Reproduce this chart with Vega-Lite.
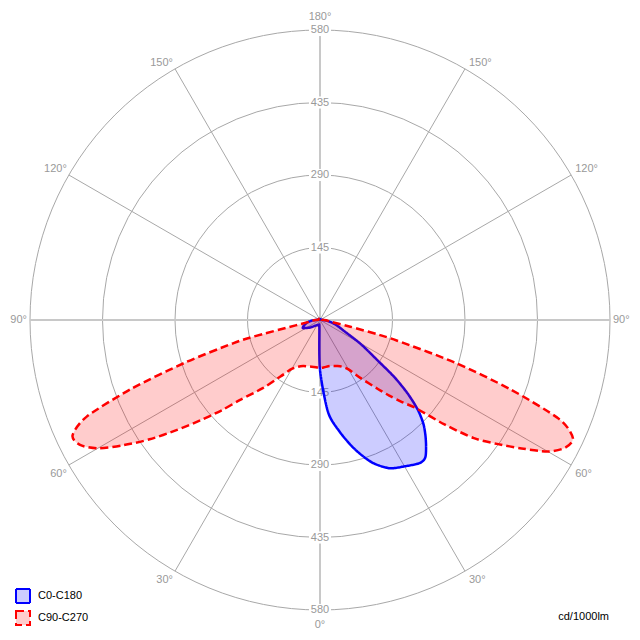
{
  "$schema": "https://vega.github.io/schema/vega-lite/v6.json",
  "width": 640,
  "height": 640,
  "autosize": {"type": "none"},
  "padding": 0,
  "background": "white",
  "config": {"view": {"stroke": null}, "text": {"font": "Liberation Sans", "fontSize": 11}},
  "datasets": {
    "rings": [{"ring": 145}, {"ring": 290}, {"ring": 435}, {"ring": 580}],
    "spokes": [
      {"angle": -150, "major": false}, {"angle": -120, "major": false}, {"angle": -60, "major": false}, {"angle": -30, "major": false},
      {"angle": 30, "major": false}, {"angle": 60, "major": false}, {"angle": 120, "major": false}, {"angle": 150, "major": false},
      {"angle": 0, "major": true}, {"angle": 90, "major": true}, {"angle": 180, "major": true}, {"angle": -90, "major": true}
    ],
    "radial": [
      {"value": 145, "angle": 180}, {"value": 290, "angle": 180}, {"value": 435, "angle": 180}, {"value": 580, "angle": 180},
      {"value": 145, "angle": 0}, {"value": 290, "angle": 0}, {"value": 435, "angle": 0}, {"value": 580, "angle": 0}
    ],
    "angles": [
      {"angle": 180, "label": "180°"}, {"angle": 0, "label": "0°"},
      {"angle": -90, "label": "90°"}, {"angle": 90, "label": "90°"},
      {"angle": -150, "label": "150°"}, {"angle": -120, "label": "120°"},
      {"angle": 150, "label": "150°"}, {"angle": 120, "label": "120°"},
      {"angle": -60, "label": "60°"}, {"angle": -30, "label": "30°"},
      {"angle": 60, "label": "60°"}, {"angle": 30, "label": "30°"}
    ],
    "curves": [
      {"curve": "C0-C180", "angle": -180, "cd": 2}, {"curve": "C0-C180", "angle": -170, "cd": 2}, {"curve": "C0-C180", "angle": -160, "cd": 2},
      {"curve": "C0-C180", "angle": -150, "cd": 2}, {"curve": "C0-C180", "angle": -140, "cd": 2}, {"curve": "C0-C180", "angle": -130, "cd": 2},
      {"curve": "C0-C180", "angle": -120, "cd": 2}, {"curve": "C0-C180", "angle": -110, "cd": 2}, {"curve": "C0-C180", "angle": -100, "cd": 2},
      {"curve": "C0-C180", "angle": -95, "cd": 4}, {"curve": "C0-C180", "angle": -90, "cd": 9}, {"curve": "C0-C180", "angle": -85, "cd": 17},
      {"curve": "C0-C180", "angle": -80, "cd": 25}, {"curve": "C0-C180", "angle": -75, "cd": 30}, {"curve": "C0-C180", "angle": -70, "cd": 35},
      {"curve": "C0-C180", "angle": -65, "cd": 38}, {"curve": "C0-C180", "angle": -60, "cd": 32}, {"curve": "C0-C180", "angle": -55, "cd": 27},
      {"curve": "C0-C180", "angle": -50, "cd": 22}, {"curve": "C0-C180", "angle": -45, "cd": 18}, {"curve": "C0-C180", "angle": -40, "cd": 15},
      {"curve": "C0-C180", "angle": -35, "cd": 13}, {"curve": "C0-C180", "angle": -30, "cd": 12}, {"curve": "C0-C180", "angle": -25, "cd": 11},
      {"curve": "C0-C180", "angle": -20, "cd": 11}, {"curve": "C0-C180", "angle": -15, "cd": 11}, {"curve": "C0-C180", "angle": -10, "cd": 12},
      {"curve": "C0-C180", "angle": -5, "cd": 15}, {"curve": "C0-C180", "angle": 0, "cd": 100}, {"curve": "C0-C180", "angle": 5, "cd": 185},
      {"curve": "C0-C180", "angle": 10, "cd": 227}, {"curve": "C0-C180", "angle": 15, "cd": 267}, {"curve": "C0-C180", "angle": 20, "cd": 303},
      {"curve": "C0-C180", "angle": 25, "cd": 327}, {"curve": "C0-C180", "angle": 30, "cd": 338}, {"curve": "C0-C180", "angle": 35, "cd": 349},
      {"curve": "C0-C180", "angle": 37.5, "cd": 346}, {"curve": "C0-C180", "angle": 40, "cd": 330}, {"curve": "C0-C180", "angle": 42.5, "cd": 312},
      {"curve": "C0-C180", "angle": 45, "cd": 292}, {"curve": "C0-C180", "angle": 47.5, "cd": 265}, {"curve": "C0-C180", "angle": 50, "cd": 229},
      {"curve": "C0-C180", "angle": 52.5, "cd": 187}, {"curve": "C0-C180", "angle": 55, "cd": 140}, {"curve": "C0-C180", "angle": 57.5, "cd": 112},
      {"curve": "C0-C180", "angle": 60, "cd": 90}, {"curve": "C0-C180", "angle": 65, "cd": 55}, {"curve": "C0-C180", "angle": 70, "cd": 40},
      {"curve": "C0-C180", "angle": 75, "cd": 30}, {"curve": "C0-C180", "angle": 80, "cd": 20}, {"curve": "C0-C180", "angle": 85, "cd": 12},
      {"curve": "C0-C180", "angle": 90, "cd": 6}, {"curve": "C0-C180", "angle": 95, "cd": 3}, {"curve": "C0-C180", "angle": 100, "cd": 2},
      {"curve": "C0-C180", "angle": 110, "cd": 2}, {"curve": "C0-C180", "angle": 120, "cd": 2}, {"curve": "C0-C180", "angle": 130, "cd": 2},
      {"curve": "C0-C180", "angle": 140, "cd": 2}, {"curve": "C0-C180", "angle": 150, "cd": 2}, {"curve": "C0-C180", "angle": 160, "cd": 2},
      {"curve": "C0-C180", "angle": 170, "cd": 2},

      {"curve": "C90-C270", "angle": -180, "cd": 3}, {"curve": "C90-C270", "angle": -170, "cd": 3}, {"curve": "C90-C270", "angle": -160, "cd": 3},
      {"curve": "C90-C270", "angle": -150, "cd": 3}, {"curve": "C90-C270", "angle": -140, "cd": 3}, {"curve": "C90-C270", "angle": -130, "cd": 3},
      {"curve": "C90-C270", "angle": -120, "cd": 3}, {"curve": "C90-C270", "angle": -110, "cd": 3}, {"curve": "C90-C270", "angle": -100, "cd": 3},
      {"curve": "C90-C270", "angle": -95, "cd": 4}, {"curve": "C90-C270", "angle": -90, "cd": 8}, {"curve": "C90-C270", "angle": -85, "cd": 15},
      {"curve": "C90-C270", "angle": -80, "cd": 25}, {"curve": "C90-C270", "angle": -77.5, "cd": 50}, {"curve": "C90-C270", "angle": -76, "cd": 138},
      {"curve": "C90-C270", "angle": -75, "cd": 180}, {"curve": "C90-C270", "angle": -72.5, "cd": 282}, {"curve": "C90-C270", "angle": -70, "cd": 400},
      {"curve": "C90-C270", "angle": -67.5, "cd": 505}, {"curve": "C90-C270", "angle": -65, "cd": 546}, {"curve": "C90-C270", "angle": -62.5, "cd": 541},
      {"curve": "C90-C270", "angle": -60, "cd": 513}, {"curve": "C90-C270", "angle": -57.5, "cd": 466}, {"curve": "C90-C270", "angle": -55, "cd": 416},
      {"curve": "C90-C270", "angle": -52.5, "cd": 362}, {"curve": "C90-C270", "angle": -50, "cd": 312}, {"curve": "C90-C270", "angle": -47.5, "cd": 268},
      {"curve": "C90-C270", "angle": -45, "cd": 226}, {"curve": "C90-C270", "angle": -40, "cd": 178}, {"curve": "C90-C270", "angle": -35, "cd": 138},
      {"curve": "C90-C270", "angle": -30, "cd": 113}, {"curve": "C90-C270", "angle": -25, "cd": 103}, {"curve": "C90-C270", "angle": -20, "cd": 98},
      {"curve": "C90-C270", "angle": -15, "cd": 96}, {"curve": "C90-C270", "angle": -10, "cd": 95}, {"curve": "C90-C270", "angle": -5, "cd": 95},
      {"curve": "C90-C270", "angle": 0, "cd": 96}, {"curve": "C90-C270", "angle": 5, "cd": 95}, {"curve": "C90-C270", "angle": 10, "cd": 94},
      {"curve": "C90-C270", "angle": 15, "cd": 95}, {"curve": "C90-C270", "angle": 20, "cd": 98}, {"curve": "C90-C270", "angle": 25, "cd": 103},
      {"curve": "C90-C270", "angle": 30, "cd": 114}, {"curve": "C90-C270", "angle": 35, "cd": 142}, {"curve": "C90-C270", "angle": 40, "cd": 180},
      {"curve": "C90-C270", "angle": 42.5, "cd": 205}, {"curve": "C90-C270", "angle": 45, "cd": 232}, {"curve": "C90-C270", "angle": 47.5, "cd": 262},
      {"curve": "C90-C270", "angle": 50, "cd": 325}, {"curve": "C90-C270", "angle": 52.5, "cd": 388}, {"curve": "C90-C270", "angle": 55, "cd": 432},
      {"curve": "C90-C270", "angle": 57.5, "cd": 478}, {"curve": "C90-C270", "angle": 60, "cd": 526}, {"curve": "C90-C270", "angle": 62.5, "cd": 553},
      {"curve": "C90-C270", "angle": 65, "cd": 558}, {"curve": "C90-C270", "angle": 67.5, "cd": 518}, {"curve": "C90-C270", "angle": 70, "cd": 405},
      {"curve": "C90-C270", "angle": 72.5, "cd": 282}, {"curve": "C90-C270", "angle": 75, "cd": 160}, {"curve": "C90-C270", "angle": 76, "cd": 119},
      {"curve": "C90-C270", "angle": 77.5, "cd": 62}, {"curve": "C90-C270", "angle": 80, "cd": 25}, {"curve": "C90-C270", "angle": 85, "cd": 15},
      {"curve": "C90-C270", "angle": 90, "cd": 8}, {"curve": "C90-C270", "angle": 95, "cd": 4}, {"curve": "C90-C270", "angle": 100, "cd": 3},
      {"curve": "C90-C270", "angle": 110, "cd": 3}, {"curve": "C90-C270", "angle": 120, "cd": 3}, {"curve": "C90-C270", "angle": 130, "cd": 3},
      {"curve": "C90-C270", "angle": 140, "cd": 3}, {"curve": "C90-C270", "angle": 150, "cd": 3}, {"curve": "C90-C270", "angle": 160, "cd": 3},
      {"curve": "C90-C270", "angle": 170, "cd": 3}
    ]
  },
  "layer": [
    {
      "data": {"name": "rings"},
      "mark": {"type": "point", "shape": "circle", "filled": false, "stroke": "#a8a8a8", "strokeWidth": 1, "opacity": 1},
      "encoding": {
        "x": {"datum": 0, "type": "quantitative", "scale": {"domain": [-640, 640]}, "axis": null},
        "y": {"datum": 0, "type": "quantitative", "scale": {"domain": [-640, 640]}, "axis": null},
        "size": {"field": "ring", "type": "quantitative", "scale": {"type": "pow", "exponent": 2, "domain": [0, 580], "range": [0, 336400]}, "legend": null}
      }
    },
    {
      "data": {"name": "spokes"},
      "transform": [
        {"filter": "!datum.major"},
        {"calculate": "580*sin(datum.angle*PI/180)", "as": "sx"},
        {"calculate": "-580*cos(datum.angle*PI/180)", "as": "sy"}
      ],
      "mark": {"type": "rule", "stroke": "#a8a8a8", "strokeWidth": 1},
      "encoding": {
        "x": {"field": "sx", "type": "quantitative", "scale": {"domain": [-640, 640]}, "axis": null},
        "y": {"field": "sy", "type": "quantitative", "scale": {"domain": [-640, 640]}, "axis": null},
        "x2": {"datum": 0},
        "y2": {"datum": 0}
      }
    },
    {
      "data": {"name": "spokes"},
      "transform": [
        {"filter": "datum.major"},
        {"calculate": "580*sin(datum.angle*PI/180)", "as": "sx"},
        {"calculate": "-580*cos(datum.angle*PI/180)", "as": "sy"}
      ],
      "mark": {"type": "rule", "stroke": "#c8c8c8", "strokeWidth": 2},
      "encoding": {
        "x": {"field": "sx", "type": "quantitative", "scale": {"domain": [-640, 640]}, "axis": null},
        "y": {"field": "sy", "type": "quantitative", "scale": {"domain": [-640, 640]}, "axis": null},
        "x2": {"datum": 0},
        "y2": {"datum": 0}
      }
    },
    {
      "data": {"name": "radial"},
      "transform": [
        {"calculate": "-datum.value*cos(datum.angle*PI/180)", "as": "ry"}
      ],
      "mark": {"type": "point", "shape": "M-1,-0.55L1,-0.55L1,0.55L-1,0.55Z", "size": 484, "filled": true, "fill": "white", "strokeWidth": 0, "opacity": 1},
      "encoding": {
        "x": {"datum": 0, "type": "quantitative", "scale": {"domain": [-640, 640]}, "axis": null},
        "y": {"field": "ry", "type": "quantitative", "scale": {"domain": [-640, 640]}, "axis": null}
      }
    },
    {
      "data": {"name": "radial"},
      "transform": [
        {"calculate": "-datum.value*cos(datum.angle*PI/180)", "as": "ry"}
      ],
      "mark": {"type": "text", "align": "center", "baseline": "middle", "color": "#999999"},
      "encoding": {
        "x": {"datum": 0, "type": "quantitative", "scale": {"domain": [-640, 640]}, "axis": null},
        "y": {"field": "ry", "type": "quantitative", "scale": {"domain": [-640, 640]}, "axis": null},
        "text": {"field": "value", "type": "quantitative", "format": "d"}
      }
    },
    {
      "data": {"name": "angles"},
      "transform": [
        {"filter": "datum.angle == -150 || datum.angle == -120"},
        {"calculate": "580*sin(datum.angle*PI/180)", "as": "lx"},
        {"calculate": "-580*cos(datum.angle*PI/180)", "as": "ly"}
      ],
      "mark": {"type": "text", "align": "right", "baseline": "alphabetic", "dx": -2, "dy": -3, "color": "#999999"},
      "encoding": {
        "x": {"field": "lx", "type": "quantitative", "scale": {"domain": [-640, 640]}, "axis": null},
        "y": {"field": "ly", "type": "quantitative", "scale": {"domain": [-640, 640]}, "axis": null},
        "text": {"field": "label"}
      }
    },
    {
      "data": {"name": "angles"},
      "transform": [
        {"filter": "datum.angle == -60 || datum.angle == -30"},
        {"calculate": "580*sin(datum.angle*PI/180)", "as": "lx"},
        {"calculate": "-580*cos(datum.angle*PI/180)", "as": "ly"}
      ],
      "mark": {"type": "text", "align": "right", "baseline": "top", "dx": -2, "dy": 3, "color": "#999999"},
      "encoding": {
        "x": {"field": "lx", "type": "quantitative", "scale": {"domain": [-640, 640]}, "axis": null},
        "y": {"field": "ly", "type": "quantitative", "scale": {"domain": [-640, 640]}, "axis": null},
        "text": {"field": "label"}
      }
    },
    {
      "data": {"name": "angles"},
      "transform": [
        {"filter": "datum.angle == 150 || datum.angle == 120"},
        {"calculate": "580*sin(datum.angle*PI/180)", "as": "lx"},
        {"calculate": "-580*cos(datum.angle*PI/180)", "as": "ly"}
      ],
      "mark": {"type": "text", "align": "left", "baseline": "alphabetic", "dx": 4, "dy": -3, "color": "#999999"},
      "encoding": {
        "x": {"field": "lx", "type": "quantitative", "scale": {"domain": [-640, 640]}, "axis": null},
        "y": {"field": "ly", "type": "quantitative", "scale": {"domain": [-640, 640]}, "axis": null},
        "text": {"field": "label"}
      }
    },
    {
      "data": {"name": "angles"},
      "transform": [
        {"filter": "datum.angle == 60 || datum.angle == 30"},
        {"calculate": "580*sin(datum.angle*PI/180)", "as": "lx"},
        {"calculate": "-580*cos(datum.angle*PI/180)", "as": "ly"}
      ],
      "mark": {"type": "text", "align": "left", "baseline": "top", "dx": 4, "dy": 3, "color": "#999999"},
      "encoding": {
        "x": {"field": "lx", "type": "quantitative", "scale": {"domain": [-640, 640]}, "axis": null},
        "y": {"field": "ly", "type": "quantitative", "scale": {"domain": [-640, 640]}, "axis": null},
        "text": {"field": "label"}
      }
    },
    {
      "data": {"name": "angles"},
      "transform": [
        {"filter": "datum.angle == -90"},
        {"calculate": "580*sin(datum.angle*PI/180)", "as": "lx"},
        {"calculate": "-580*cos(datum.angle*PI/180)", "as": "ly"}
      ],
      "mark": {"type": "text", "align": "right", "baseline": "middle", "dx": -3, "color": "#999999"},
      "encoding": {
        "x": {"field": "lx", "type": "quantitative", "scale": {"domain": [-640, 640]}, "axis": null},
        "y": {"field": "ly", "type": "quantitative", "scale": {"domain": [-640, 640]}, "axis": null},
        "text": {"field": "label"}
      }
    },
    {
      "data": {"name": "angles"},
      "transform": [
        {"filter": "datum.angle == 90"},
        {"calculate": "580*sin(datum.angle*PI/180)", "as": "lx"},
        {"calculate": "-580*cos(datum.angle*PI/180)", "as": "ly"}
      ],
      "mark": {"type": "text", "align": "left", "baseline": "middle", "dx": 3, "color": "#999999"},
      "encoding": {
        "x": {"field": "lx", "type": "quantitative", "scale": {"domain": [-640, 640]}, "axis": null},
        "y": {"field": "ly", "type": "quantitative", "scale": {"domain": [-640, 640]}, "axis": null},
        "text": {"field": "label"}
      }
    },
    {
      "data": {"name": "angles"},
      "transform": [
        {"filter": "datum.angle == 180"},
        {"calculate": "580*sin(datum.angle*PI/180)", "as": "lx"},
        {"calculate": "-580*cos(datum.angle*PI/180)", "as": "ly"}
      ],
      "mark": {"type": "text", "align": "center", "baseline": "alphabetic", "dy": -10, "color": "#999999"},
      "encoding": {
        "x": {"field": "lx", "type": "quantitative", "scale": {"domain": [-640, 640]}, "axis": null},
        "y": {"field": "ly", "type": "quantitative", "scale": {"domain": [-640, 640]}, "axis": null},
        "text": {"field": "label"}
      }
    },
    {
      "data": {"name": "angles"},
      "transform": [
        {"filter": "datum.angle == 0"},
        {"calculate": "580*sin(datum.angle*PI/180)", "as": "lx"},
        {"calculate": "-580*cos(datum.angle*PI/180)", "as": "ly"}
      ],
      "mark": {"type": "text", "align": "center", "baseline": "top", "dy": 9, "color": "#999999"},
      "encoding": {
        "x": {"field": "lx", "type": "quantitative", "scale": {"domain": [-640, 640]}, "axis": null},
        "y": {"field": "ly", "type": "quantitative", "scale": {"domain": [-640, 640]}, "axis": null},
        "text": {"field": "label"}
      }
    },
    {
      "data": {"name": "curves"},
      "transform": [
        {"calculate": "datum.cd*sin(datum.angle*PI/180)", "as": "px"},
        {"calculate": "-datum.cd*cos(datum.angle*PI/180)", "as": "py"}
      ],
      "mark": {"type": "line", "interpolate": "cardinal-closed", "tension": 0.2, "strokeWidth": 2.5, "strokeJoin": "round"},
      "encoding": {
        "x": {"field": "px", "type": "quantitative", "scale": {"domain": [-640, 640]}, "axis": null},
        "y": {"field": "py", "type": "quantitative", "scale": {"domain": [-640, 640]}, "axis": null},
        "order": {"field": "angle", "type": "quantitative"},
        "stroke": {
          "field": "curve", "type": "nominal",
          "scale": {"domain": ["C0-C180", "C90-C270"], "range": ["#0000ff", "#ff0000"]},
          "legend": {
            "title": null, "orient": "none", "legendX": 15, "legendY": 588,
            "symbolType": "square", "symbolSize": 196, "symbolStrokeWidth": 2,
            "labelFont": "Liberation Sans", "labelFontSize": 11, "labelColor": "#000000",
            "rowPadding": 0, "labelOffset": 7
          }
        },
        "fill": {
          "field": "curve", "type": "nominal",
          "scale": {"domain": ["C0-C180", "C90-C270"], "range": ["rgba(0,0,255,0.2)", "rgba(255,0,0,0.2)"]},
          "legend": {
            "title": null, "orient": "none", "legendX": 15, "legendY": 588,
            "symbolType": "square", "symbolSize": 196, "symbolStrokeWidth": 2,
            "labelFont": "Liberation Sans", "labelFontSize": 11, "labelColor": "#000000",
            "rowPadding": 0, "labelOffset": 7
          }
        },
        "strokeDash": {
          "field": "curve", "type": "nominal",
          "scale": {"domain": ["C0-C180", "C90-C270"], "range": [[1, 0], [8, 4]]},
          "legend": {
            "title": null, "orient": "none", "legendX": 15, "legendY": 588,
            "symbolType": "square", "symbolSize": 196, "symbolStrokeWidth": 2,
            "labelFont": "Liberation Sans", "labelFontSize": 11, "labelColor": "#000000",
            "rowPadding": 0, "labelOffset": 7
          }
        }
      }
    },
    {
      "data": {"values": [{"unit": "cd/1000lm"}]},
      "mark": {"type": "text", "align": "right", "baseline": "middle", "color": "#000000"},
      "encoding": {
        "x": {"datum": 578, "type": "quantitative", "scale": {"domain": [-640, 640]}, "axis": null},
        "y": {"datum": -594, "type": "quantitative", "scale": {"domain": [-640, 640]}, "axis": null},
        "text": {"field": "unit"}
      }
    }
  ]
}
